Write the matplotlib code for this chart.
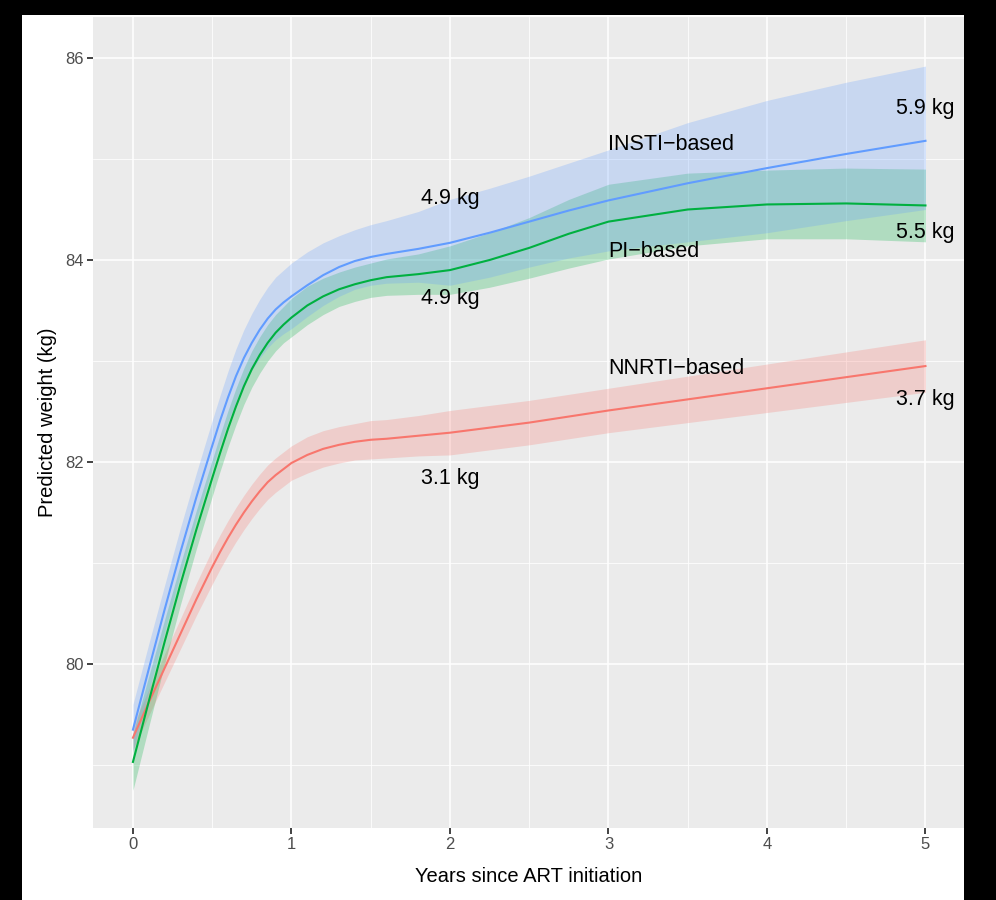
import matplotlib
matplotlib.use("Agg")
import numpy as np
from matplotlib import pyplot as plt
from matplotlib.patches import Rectangle

plt.rcParams["font.family"] = ["Liberation Sans", "DejaVu Sans"]

# years since ART initiation
years = [0, 0.1, 0.2, 0.3, 0.4, 0.5,
         0.55, 0.6, 0.65, 0.7, 0.75, 0.8, 0.85, 0.9, 0.95,
         1.0,
         1.1, 1.2, 1.3, 1.4, 1.5, 1.6,
         1.8, 2.0,
         2.25, 2.5, 2.75, 3.0,
         3.5, 4.0, 4.5, 5.0]

# predicted weight (kg)
insti = [79.35, 79.95, 80.54, 81.11, 81.65, 82.16,
         82.41, 82.64, 82.85, 83.03, 83.18, 83.31, 83.42, 83.51, 83.58,
         83.64,
         83.75, 83.85, 83.93, 83.99, 84.03, 84.06,
         84.11, 84.17,
         84.27, 84.38, 84.49, 84.59,
         84.76, 84.91, 85.05, 85.18]
pi = [79.03, 79.63, 80.22, 80.79, 81.33, 81.84,
      82.09, 82.33, 82.55, 82.75, 82.92, 83.06, 83.18, 83.28, 83.36,
      83.43,
      83.55, 83.64, 83.71, 83.76, 83.80, 83.83,
      83.86, 83.90,
      84.00, 84.12, 84.26, 84.38,
      84.50, 84.55, 84.56, 84.54]
nnrti = [79.27, 79.62, 79.96, 80.30, 80.64, 80.96,
         81.11, 81.25, 81.38, 81.50, 81.61, 81.71, 81.80, 81.87, 81.93,
         81.99,
         82.07, 82.13, 82.17, 82.20, 82.22, 82.23,
         82.26, 82.29,
         82.34, 82.39, 82.45, 82.51,
         82.62, 82.73, 82.84, 82.95]

# confidence band widths above / below each curve (kg)
insti_up = [0.25, 0.25, 0.24, 0.24, 0.24, 0.25,
            0.25, 0.26, 0.27, 0.28, 0.29, 0.30, 0.31, 0.32, 0.32,
            0.33,
            0.33, 0.32, 0.31, 0.31, 0.32, 0.33,
            0.37, 0.43,
            0.44, 0.45, 0.47, 0.50,
            0.60, 0.67, 0.71, 0.74]
insti_dn = [0.22, 0.22, 0.22, 0.22, 0.22, 0.23,
            0.23, 0.24, 0.25, 0.26, 0.27, 0.28, 0.29, 0.30, 0.31,
            0.32,
            0.31, 0.30, 0.29, 0.28, 0.28, 0.29,
            0.33, 0.42,
            0.44, 0.45, 0.47, 0.50,
            0.58, 0.64, 0.66, 0.68]
pi_band = [0.28, 0.25, 0.22, 0.20, 0.19, 0.18,
           0.18, 0.18, 0.18, 0.18, 0.18, 0.18, 0.18, 0.18, 0.18,
           0.19,
           0.19, 0.18, 0.17, 0.17, 0.17, 0.18,
           0.20, 0.24,
           0.27, 0.30, 0.34, 0.37,
           0.36, 0.34, 0.35, 0.36]
nnrti_band = [0.12, 0.13, 0.14, 0.15, 0.16, 0.17,
              0.17, 0.17, 0.17, 0.17, 0.17, 0.17, 0.17, 0.17, 0.17,
              0.17,
              0.18, 0.18, 0.18, 0.18, 0.19, 0.19,
              0.20, 0.22,
              0.22, 0.22, 0.22, 0.22,
              0.23, 0.24, 0.25, 0.26]

# annotations: (x, y, text, horizontal alignment)
labels = [
    (3, 85.14, "INSTI\u2212based", "left"),
    (3, 84.08, "PI\u2212based", "left"),
    (3, 82.93, "NNRTI\u2212based", "left"),
    (5, 85.50, "5.9 kg", "center"),
    (5, 84.27, "5.5 kg", "center"),
    (5, 82.62, "3.7 kg", "center"),
    (2, 84.61, "4.9 kg", "center"),
    (2, 83.62, "4.9 kg", "center"),
    (2, 81.84, "3.1 kg", "center"),
]

x = np.array(years)
series = [
    (np.array(nnrti), np.array(nnrti_band), np.array(nnrti_band), "#F8766D"),
    (np.array(pi), np.array(pi_band), np.array(pi_band), "#00B040"),
    (np.array(insti), np.array(insti_dn), np.array(insti_up), "#619CFF"),
]

fig = plt.figure(figsize=(9.96, 9.0), dpi=100)
fig.patch.set_facecolor("black")
fig.patches.append(Rectangle((22 / 996, 0), 942 / 996, 885 / 900, transform=fig.transFigure,
                             facecolor="white", edgecolor="none", zorder=-1))

ax = fig.add_axes([93 / 996, 72 / 900, 871 / 996, 811 / 900])
ax.set_facecolor("#EBEBEB")

for mid, dn, up, col in series:
    ax.fill_between(x, mid - dn, mid + up, color=col, alpha=0.25, linewidth=0, zorder=2)
for mid, dn, up, col in series:
    ax.plot(x, mid, color=col, linewidth=1.5, zorder=3, solid_joinstyle="round")

for tx, ty, txt, ha in labels:
    ax.text(tx, ty, txt, ha=ha, va="center", fontsize=15.5, color="black", zorder=4)

ax.set_xlim(-0.252, 5.243)
ax.set_ylim(78.376, 86.406)
ax.set_xticks([0, 1, 2, 3, 4, 5])
ax.set_yticks([80, 82, 84, 86])
ax.set_xticks(np.arange(0.5, 5, 1), minor=True)
ax.set_yticks([79, 81, 83, 85], minor=True)
ax.grid(which="major", color="white", linewidth=1.1, zorder=1)
ax.grid(which="minor", color="white", linewidth=0.55, zorder=1)
ax.set_axisbelow(True)
for s in ax.spines.values():
    s.set_visible(False)

ax.tick_params(which="major", length=4, width=1.3, color="#333333",
               labelsize=12, labelcolor="#4D4D4D", pad=2.5)
ax.tick_params(which="minor", length=0)

ax.set_xlabel("Years since ART initiation", fontsize=14.5, color="black")
ax.set_ylabel("Predicted weight (kg)", fontsize=14.5, color="black")
ax.xaxis.set_label_coords(0.5, -0.0604)
ax.xaxis.label.set_va("center")
ax.yaxis.set_label_coords(-0.0528, 0.5)
ax.yaxis.label.set_va("center")

fig.savefig("out.png", dpi=100, facecolor=fig.get_facecolor())
